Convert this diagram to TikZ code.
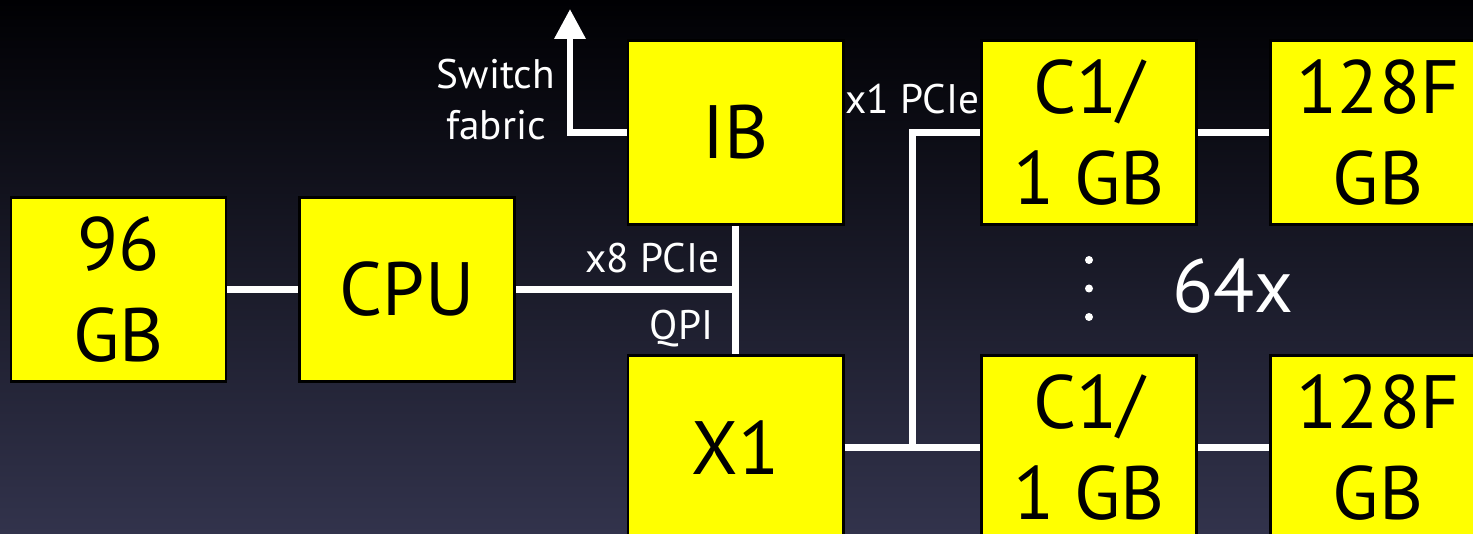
\documentclass[tikz,border=0pt]{standalone}
\usepackage{fontspec}
\setmainfont{PT Sans}
\definecolor{boxYellow}{RGB}{255, 255, 0}
\definecolor{bgTop}{RGB}{0, 0, 3}
\definecolor{bgMid}{RGB}{14, 14, 43}
\definecolor{bgBottom}{RGB}{50, 51, 76}
\usetikzlibrary{arrows.meta, positioning, calc}
\newcommand{\boxfont}{\fontsize{43pt}{52pt}\selectfont}
\newcommand{\tagfont}{\fontsize{23.5pt}{29pt}\selectfont}

\begin{document}
\begin{tikzpicture}[
    box/.style={draw=black, line width=1.7pt, fill=boxYellow, minimum width=4.3cm,
                minimum height=3.68cm, align=center, font=\boxfont, inner sep=0pt},
    lbl/.style={text=white, font=\tagfont, inner sep=0pt, align=center},
    wire/.style={white, line width=3.8pt},
    arr/.style={wire, -{Triangle[width=0.6cm, length=0.6cm]}}
  ]
    \useasboundingbox (0,0) rectangle (29.46,10.68);
    \clip (0,0) rectangle (29.46,10.68);
    \shade[top color=bgTop, middle color=bgMid, bottom color=bgBottom]
      (0,0) rectangle (29.46,10.68);

    \node[box] (mem) at (2.37,4.89) {96\\GB};
    \node[box] (cpu) at (8.14,4.89) {CPU};
    \node[box] (ib) at (14.71,8.03) {IB};
    \node[box] (xone) at (14.71,1.73) {X1};
    \node[box] (cone) at (21.78,8.03) {C1/\\1 GB};
    \node[box] (ctwo) at (21.78,1.73) {C1/\\1 GB};
    \node[box] (flone) at (27.56,8.03) {128F\\GB};
    \node[box] (fltwo) at (27.56,1.73) {128F\\GB};

    \coordinate (hub) at (cpu.east -| ib.south);
    \coordinate (tap) at ($(xone.east)!0.5!(ctwo.west)$);
    \coordinate (corner) at (tap |- cone.west);
    \coordinate (fabric) at (11.4,10.5);

    \draw[wire] (mem) -- (cpu);
    \draw[wire] (cpu) -- (hub);
    \draw[wire] (ib) -- (xone);
    \draw[wire] (xone) -- (ctwo);
    \draw[wire] (tap) |- (cone.west);
    \draw[wire] (cone) -- (flone);
    \draw[wire] (ctwo) -- (fltwo);
    \draw[arr] (ib.west) -| (fabric);

    \node[lbl] (switch) at (9.92,8.68) {Switch\\fabric};
    \node[lbl, above left=0.32cm and 0.32cm of hub] (pcieeight) {x8 PCIe};
    \node[lbl, below left=0.4cm and 0.44cm of hub] (qpi) {QPI};
    \node[lbl, above=0.36cm of corner] (pcieone) {x1 PCIe};
    \node[lbl, font=\boxfont, anchor=base] (count) at (24.66,4.42) {64x};

    \foreach \dy in {0.6,0.03,-0.54}
      \fill[white] ($(cone.south)!0.5!(ctwo.north)+(0,\dy)$) circle (0.08);
  \end{tikzpicture}
\end{document}
